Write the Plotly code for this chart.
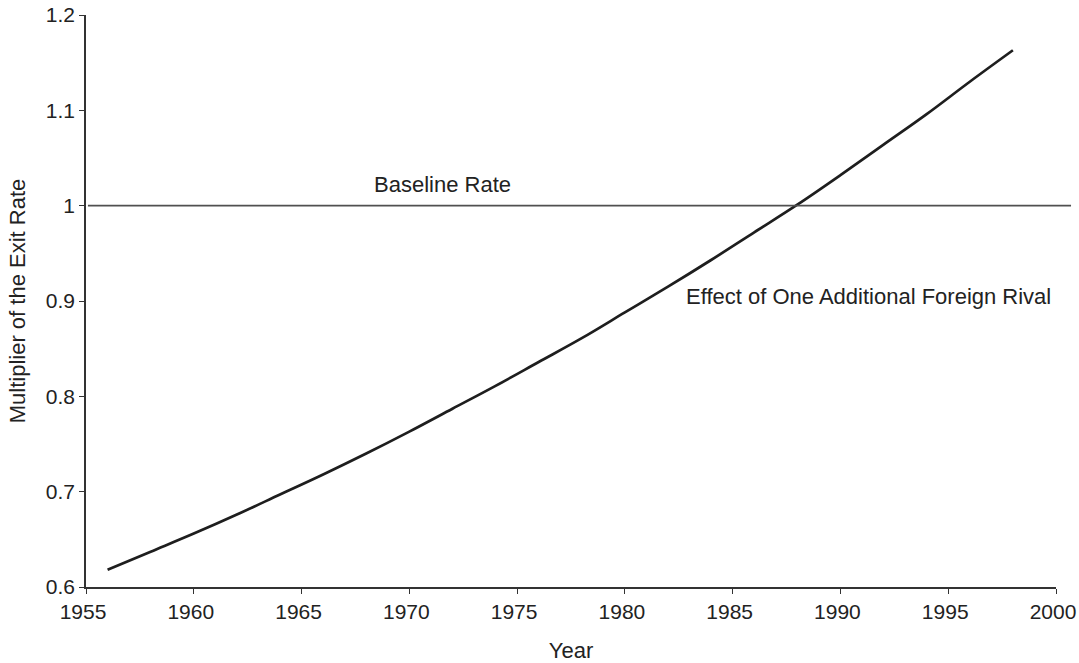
import plotly.graph_objects as go

# Data
years = [1956, 1958, 1960, 1962, 1964, 1966, 1968, 1970, 1972, 1974, 1976,
         1978, 1980, 1982, 1984, 1986, 1988, 1990, 1992, 1994, 1996, 1998]
multiplier = [0.618, 0.637, 0.656, 0.676, 0.697, 0.718, 0.740, 0.763, 0.787,
              0.811, 0.836, 0.861, 0.888, 0.915, 0.943, 0.972, 1.001, 1.032,
              1.064, 1.096, 1.130, 1.163]
baseline_value = 1.0

x_ticks = [1955, 1960, 1965, 1970, 1975, 1980, 1985, 1990, 1995, 2000]
y_ticks = [0.6, 0.7, 0.8, 0.9, 1.0, 1.1, 1.2]
y_tick_text = ["0.6", "0.7", "0.8", "0.9", "1", "1.1", "1.2"]

FONT = "Liberation Sans, Arial, sans-serif"
TXT = "#222222"
FS = 22
TFS = 21

fig = go.Figure()

fig.add_trace(go.Scatter(
    x=years, y=multiplier, mode="lines",
    line=dict(color="#1e1e1e", width=2.7, shape="spline"),
    showlegend=False, hoverinfo="x+y",
))

# Baseline rate line (extends slightly past the plot's right edge)
fig.add_shape(type="line", xref="paper", yref="y",
              x0=0.002, x1=1.0155, y0=baseline_value, y1=baseline_value,
              line=dict(color="#505050", width=1.8))

fig.add_annotation(x=1971.55, y=1.0217, xref="x", yref="y",
                   text="Baseline Rate", showarrow=False,
                   font=dict(family=FONT, size=FS, color=TXT))
fig.add_annotation(x=1991.3, y=0.9052, xref="x", yref="y",
                   text="Effect of One Additional Foreign Rival", showarrow=False,
                   font=dict(family=FONT, size=FS, color=TXT))

fig.update_layout(
    width=1079, height=663,
    margin=dict(l=86, r=23, t=15, b=76),
    paper_bgcolor="white", plot_bgcolor="white",
    font=dict(family=FONT, size=FS, color=TXT),
    xaxis=dict(
        range=[1955, 2000], tickvals=x_ticks, ticktext=[str(v) for v in x_ticks],
        showgrid=False, zeroline=False, showline=True, linecolor="#333333",
        linewidth=1.5, ticks="outside", ticklen=5, tickcolor="#333333",
        tickwidth=1.2, tickfont=dict(family=FONT, size=TFS, color=TXT),
        automargin=False, ticklabeloverflow="allow", ticklabelshift=-3,
        title=dict(text="Year", standoff=31,
                   font=dict(family=FONT, size=FS, color=TXT)),
    ),
    yaxis=dict(
        range=[0.6, 1.2], tickvals=y_ticks, ticktext=y_tick_text,
        showgrid=False, zeroline=False, showline=True, linecolor="#333333",
        linewidth=1.5, ticks="outside", ticklen=5, tickcolor="#333333",
        tickwidth=1.2, tickfont=dict(family=FONT, size=TFS, color=TXT),
        automargin=False, ticklabeloverflow="allow",
        title=dict(text="Multiplier of the Exit Rate", standoff=14,
                   font=dict(family=FONT, size=FS, color=TXT)),
    ),
)

fig.write_html("out.html", config={"displayModeBar": False},
               post_script="document.body.style.margin='0';")
